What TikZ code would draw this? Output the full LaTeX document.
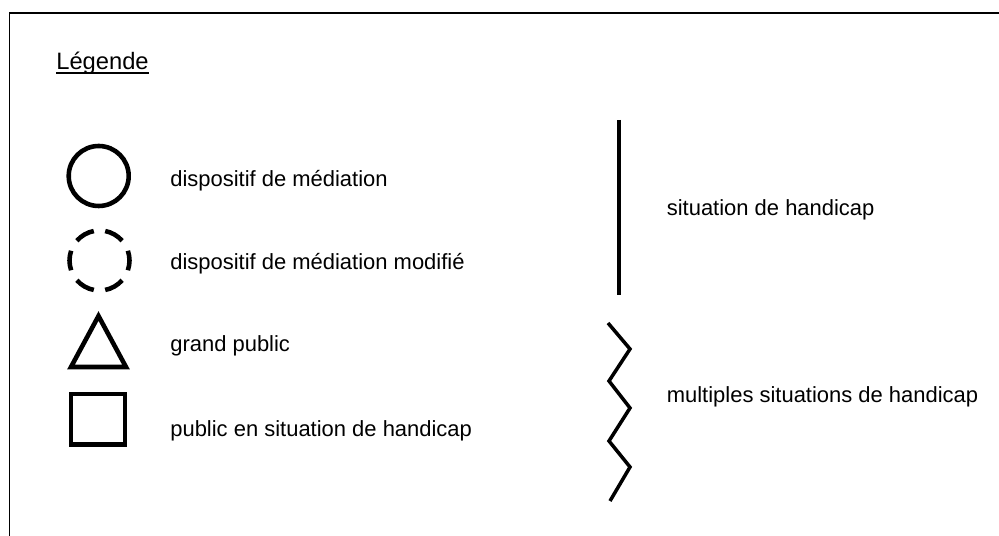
\documentclass[tikz,border=0pt]{standalone}
\usepackage{fontspec}
\setmainfont{Liberation Sans}
\usepackage{tikz}
\def\xSym{98.7}
\def\xLbl{170}
\def\xBar{619}
\def\xBlb{666.5}
\tikzset{
  lgsym/.style={line width=2.6pt},
  lgbar/.style={line width=2pt},
  lglbl/.style={font=\fontsize{12.5}{15}\selectfont, anchor=base west, inner sep=0pt},
  lgtitle/.style={lglbl, font=\fontsize{13.5}{16}\selectfont},
  lgframe/.style={line width=1pt},
}
\newcommand{\lgentry}[4]{\node[lglbl] (#1) at (#2,#3) {#4};}

\begin{document}
\begin{tikzpicture}[x=0.02cm, y=-0.02cm]
  \useasboundingbox (0,0) rectangle (999,536);
  % cadre
  \draw[lgframe] (9.5,540) -- (9.5,13) -- (1002,13);

  % titre
  \node[lgtitle] (lgTitre) at (56,69.3) {Légende};
  \draw[line width=0.9pt] ([yshift=-2.2pt]lgTitre.base west) -- ([yshift=-2.2pt]lgTitre.base east);

  % symboles
  \coordinate (cMed) at (\xSym,176);
  \coordinate (cMod) at (99.5,260.5);
  \draw[lgsym] (cMed) circle[radius=30];
  \foreach \a in {0,60,...,300}
    \draw[lgsym] ([shift={(\a-19:30)}]cMod) arc[start angle=\a-19, end angle=\a+19, radius=30];
  \draw[lgsym] (98.5,316) -- (126,367) -- (71,367) -- cycle;
  \draw[lgsym] (71,394) rectangle (125,444.5);

  \draw[lgbar] (\xBar,120) -- (\xBar,295);
  \draw[lgbar] (608,323) -- (630,349) -- (609,381) -- (630,408)
    -- (609,441) -- (630,467) -- (610,501);

  % textes
  \lgentry{lgMed}{\xLbl}{186.7}{dispositif de médiation}
  \lgentry{lgMod}{\xLbl}{269.3}{dispositif de médiation modifié}
  \lgentry{lgGP}{\xLbl}{351.7}{grand public}
  \lgentry{lgPSH}{\xLbl}{436.5}{public en situation de handicap}
  \lgentry{lgSH}{\xBlb}{216}{situation de handicap}
  \lgentry{lgMSH}{\xBlb}{402.3}{multiples situations de handicap}
\end{tikzpicture}
\end{document}
